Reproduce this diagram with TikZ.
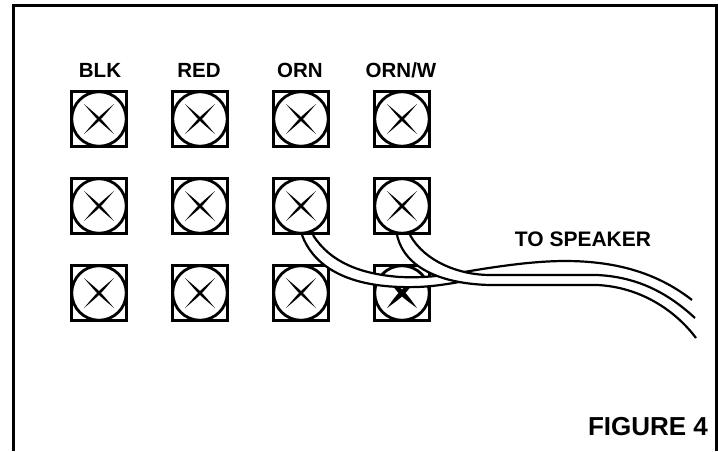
\documentclass[tikz,border=0pt]{standalone}
\usepackage{fontspec}
\setmainfont{Liberation Sans}
\usetikzlibrary{calc}
\tikzset{
  frameline/.style={line width=3pt,line cap=butt},
  plate/.style={draw=black,line width=3.4pt,fill=white,rectangle,minimum size=55pt,inner sep=0pt},
  head/.style={draw=black,line width=2.8pt,fill=white,circle,minimum size=54.5pt,inner sep=0pt},
  label/.style={font=\bfseries\fontsize{20.5}{20.5}\selectfont,inner sep=0pt,text=black,anchor=base},
  bigger/.style={font=\bfseries\fontsize{26}{26}\selectfont,inner sep=0pt,text=black,anchor=base},
  spk/.style={font=\bfseries\fontsize{21}{21}\selectfont,inner sep=0pt,text=black,anchor=base},
  edge/.style={line width=2.2pt,line join=round},
}
\newcommand{\screwcross}[2]{%
  \fill[black,shift={(#1)}] (-15,-15) .. controls (-#2,#2) and (-#2,#2) .. (15,15) .. controls (#2,-#2) and (#2,-#2) .. (-15,-15);
  \fill[black,shift={(#1)}] (15,-15) .. controls (#2,#2) and (#2,#2) .. (-15,15) .. controls (-#2,-#2) and (-#2,-#2) .. (15,-15);
}
\newcommand{\screwat}[4]{%
  \node[plate] (p#1) at (#2,#3) {};
  \node[head] (h#1) at (#2,#3) {};
  \screwcross{h#1.center}{#4}
}
\begin{document}
\begin{tikzpicture}[x=1pt,y=-1pt]
\useasboundingbox (0,0) rectangle (718,451);
\fill[white] (0,0) rectangle (718,451);
\coordinate (fa) at (13,451);
\coordinate (fb) at (13,5.5);
\coordinate (fc) at (716,5.5);
\coordinate (fd) at (716,451);
\draw[frameline] (fa) -- (fb) -- (fc) -- (fd);
\node[label] (lblk) at (100,77) {BLK};
\node[label] (lred) at (199,77) {RED};
\node[label] (lorn) at (300,77) {ORN};
\node[label] (lornw) at (401,77) {ORN/W};
\screwat{a}{99}{119}{1.3}
\screwat{b}{200}{119}{1.3}
\screwat{c}{301}{119}{1.3}
\screwat{d}{402}{119}{1.3}
\screwat{e}{99}{206}{1.3}
\screwat{f}{200}{206}{1.3}
\screwat{g}{301}{206}{1.3}
\screwat{h}{402}{206}{1.3}
\screwat{i}{99}{293}{1.3}
\screwat{j}{200}{293}{1.3}
\screwat{k}{301}{293}{1.3}
\screwat{l}{402}{293}{2.4}
% wire from ORN second-row screw
\coordinate (wau) at ($(hg.center)+(12,29)$);
\coordinate (wal) at ($(hg.center)+(1,29)$);
\coordinate (wae) at (692,300);
\coordinate (waf) at (695,318);
\fill[white] (wau) .. controls (330,262) and (360,274) .. (400,277)
  .. controls (425,278) and (440,276) .. (470,271)
  .. controls (500,266) and (535,261) .. (565,261)
  .. controls (620,261) and (660,275) .. (wae) -- (waf)
  .. controls (670,295) and (640,277) .. (597,275) -- (490,276)
  .. controls (450,284) and (430,288) .. (400,287)
  .. controls (340,285) and (312,262) .. (wal) -- cycle;
\draw[edge] (wau) .. controls (330,262) and (360,274) .. (400,277)
  .. controls (425,278) and (440,276) .. (470,271)
  .. controls (500,266) and (535,261) .. (565,261)
  .. controls (620,261) and (660,275) .. (wae);
\draw[edge] (wal) .. controls (312,262) and (340,285) .. (400,287)
  .. controls (430,288) and (450,284) .. (490,276);
% wire from ORN/W second-row screw
\coordinate (wbu) at ($(hh.center)+(8,29)$);
\coordinate (wbl) at ($(hh.center)+(-5,29)$);
\coordinate (wbe) at (696,338);
\fill[white] (wbu) .. controls (425,262) and (460,275) .. (490,275) -- (597,275)
  .. controls (640,277) and (670,295) .. (waf) -- (wbe)
  .. controls (675,310) and (640,287) .. (597,285) -- (490,285)
  .. controls (445,284) and (405,270) .. (wbl) -- cycle;
\draw[edge] (wbu) .. controls (425,262) and (460,275) .. (490,275) -- (597,275)
  .. controls (640,277) and (670,295) .. (waf);
\draw[edge] (wbl) .. controls (405,270) and (445,284) .. (490,285) -- (597,285)
  .. controls (640,287) and (675,310) .. (wbe);
\node[spk] (lspk) at (583,246.5) {TO SPEAKER};
\node[bigger] (lfig) at (648,435) {FIGURE 4};
\end{tikzpicture}
\end{document}
